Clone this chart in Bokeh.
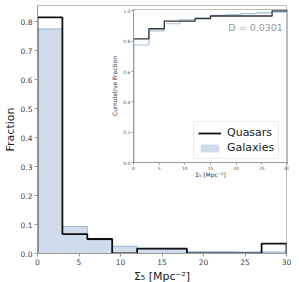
import numpy as np
from bokeh.plotting import figure
from bokeh.models import Range1d, FixedTicker, NumeralTickFormatter, Legend, LegendItem, Label, Title
from bokeh.embed import file_html
from bokeh.resources import INLINE

# ---- data ----
edges = [0, 3, 6, 9, 12, 15, 18, 21, 24, 27, 30]
quasars = [0.815, 0.067, 0.050, 0.0, 0.017, 0.017, 0.0, 0.0, 0.0, 0.034]
galaxies = [0.775, 0.093, 0.047, 0.025, 0.016, 0.014, 0.006, 0.006, 0.005, 0.005]
x_ticks = [0, 5, 10, 15, 20, 25, 30]
y_ticks = [0.0, 0.1, 0.2, 0.3, 0.4, 0.5, 0.6, 0.7, 0.8]
inset_y_ticks = [0.0, 0.2, 0.4, 0.6, 0.8, 1.0]
ks_text = "D = 0.0301"
series_names = ["Quasars", "Galaxies"]
x_title = "Σ₅ [Mpc⁻²]"

FONT = "DejaVu Sans"
GAL_FILL = "#b0c4de"
GAL_EDGE = "#9db4d6"
QSO_COL = "#111111"

# ---- main figure ----
p = figure(width=299, height=282, title=None, x_range=Range1d(0, 30), y_range=Range1d(0, 0.856),
           min_border_left=37, min_border_right=13, min_border_top=5, min_border_bottom=28,
           toolbar_location=None, output_backend="svg")
p.grid.visible = False
p.outline_line_color = "#bbbbbb"

gal_quad = p.quad(left=edges[:-1], right=edges[1:], top=galaxies, bottom=0,
                  fill_color=GAL_FILL, fill_alpha=0.6, line_color=None)
gal_x = [edges[0]] + edges
gal_y = [0] + galaxies + [0]
p.step(gal_x, gal_y, mode="after", line_color=GAL_EDGE, line_width=1.0)
q_y = [0] + quasars + [0]
q_step = p.step(gal_x, q_y, mode="after", line_color=QSO_COL, line_width=1.8)

for ax in (p.xaxis[0], p.yaxis[0]):
    ax.axis_line_color = "#999999"
    ax.major_tick_line_color = "#999999"
    ax.major_tick_out = 3
    ax.major_tick_in = 0
    ax.minor_tick_line_color = None
    ax.major_label_text_font = FONT
    ax.major_label_text_font_size = "7.5px"
    ax.major_label_text_color = "#444444"
    ax.axis_label_text_font = FONT
    ax.axis_label_text_font_style = "normal"
    ax.axis_label_text_font_size = "11px"
    ax.axis_label_text_color = "#222222"
    ax.major_label_standoff = 2
    ax.axis_label_standoff = 1

p.xaxis.ticker = FixedTicker(ticks=x_ticks)
p.yaxis.ticker = FixedTicker(ticks=y_ticks)
p.yaxis.formatter = NumeralTickFormatter(format="0.0")
p.yaxis.axis_label = "Fraction"

p.add_layout(Title(text=x_title, align="center", text_font=FONT, text_font_size="11px",
                   text_font_style="normal", text_color="#222222", standoff=0, offset=0), "below")

legend = Legend(items=[LegendItem(label=series_names[0], renderers=[q_step]),
                       LegendItem(label=series_names[1], renderers=[gal_quad])],
                location=(156, 94), margin=0, padding=4, spacing=2,
                glyph_width=23, glyph_height=10, label_height=13, label_standoff=6,
                label_text_font=FONT, label_text_font_size="11px", label_text_color="#222222",
                border_line_color="#d9d9d9", border_line_width=1,
                background_fill_color="white", background_fill_alpha=1.0)
p.add_layout(legend, "center")

# ---- inset figure (cumulative) ----
inset = figure(frame_width=154, frame_height=153, title=None, x_range=Range1d(0, 30), y_range=Range1d(0, 1.009),
               min_border_left=19, min_border_right=2, min_border_top=2, min_border_bottom=18,
               toolbar_location=None, output_backend="svg",
               background_fill_color=None, border_fill_color=None,
               styles={"position": "absolute", "left": "108px", "top": "7px"})
inset.grid.visible = False
inset.outline_line_color = "#bbbbbb"

cq = np.cumsum(quasars).tolist()
cg = np.cumsum(galaxies).tolist()
cx = [edges[0]] + edges
inset.step(cx, [0] + cg + [cg[-1]], mode="after", line_color="#a9c1e0", line_width=1.2)
inset.step(cx, [0] + cq + [cq[-1]], mode="after", line_color="#333333", line_width=1.3)

for ax in (inset.xaxis[0], inset.yaxis[0]):
    ax.axis_line_color = "#999999"
    ax.major_tick_line_color = "#999999"
    ax.major_tick_out = 2
    ax.major_tick_in = 0
    ax.minor_tick_line_color = None
    ax.major_label_text_font = FONT
    ax.major_label_text_font_size = "4.5px"
    ax.major_label_text_color = "#555555"
    ax.axis_label_text_font = FONT
    ax.axis_label_text_font_style = "normal"
    ax.axis_label_text_font_size = "6px"
    ax.axis_label_text_color = "#333333"
    ax.major_label_standoff = 1
    ax.axis_label_standoff = 2
inset.xaxis.axis_label_standoff = -2

inset.xaxis.ticker = FixedTicker(ticks=x_ticks)
inset.yaxis.ticker = FixedTicker(ticks=inset_y_ticks)
inset.yaxis.formatter = NumeralTickFormatter(format="0.0")
inset.xaxis.axis_label = x_title
inset.yaxis.axis_label = "Cumulative Fraction"

inset.add_layout(Label(x=29.1, y=0.892, text=ks_text, text_align="right", text_baseline="middle",
                       text_font=FONT, text_font_size="9.5px", text_color="#999999"))

open("out.html", "w").write(file_html((p, inset), INLINE))
